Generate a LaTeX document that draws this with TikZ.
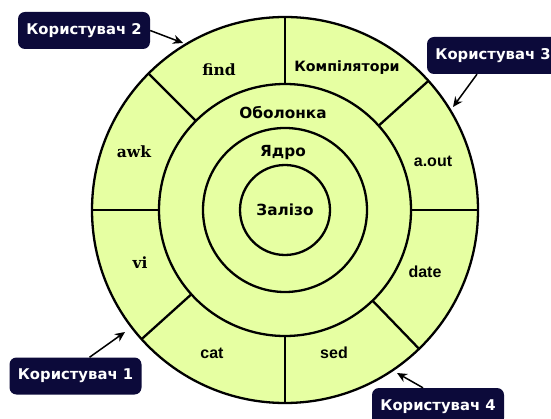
\documentclass[tikz,border=0pt]{standalone}
\usepackage{fontspec}
\setmainfont{DejaVu Sans}
\newfontfamily\labelsans{DejaVu Sans}
\newfontfamily\labelserif{DejaVu Serif}
\newfontfamily\progsans{Liberation Sans}
\usetikzlibrary{arrows.meta,calc}
\definecolor{ringfill}{RGB}{230,255,162}
\definecolor{usernavy}{RGB}{12,10,58}
\tikzset{
  ring/.style={draw=black, line width=2.3pt, fill=ringfill},
  divider/.style={draw=black, line width=2.3pt},
  userbox/.style={fill=usernavy, text=white, rounded corners=7pt,
    minimum width=132pt, minimum height=37pt, inner sep=0pt,
    font=\labelsans\bfseries\fontsize{14.8}{16}\selectfont},
  layer/.style={text=black, inner sep=1pt, font=\labelsans\bfseries\fontsize{15.3}{16}\selectfont},
  toolserif/.style={text=black, inner sep=1pt, font=\labelserif\bfseries\fontsize{15.5}{16}\selectfont},
  toolsans/.style={text=black, inner sep=1pt, font=\progsans\bfseries\fontsize{16}{17}\selectfont},
  pointer/.style={draw=black, line width=1.5pt, -{Stealth[length=10pt,width=9pt]}}
}
\begin{document}
\begin{tikzpicture}[x=1pt,y=-1pt]
  \useasboundingbox (0,0) rectangle (551,419);
  \clip (0,0) rectangle (551,419);
  \fill[white] (0,0) rectangle (551,419);

  \coordinate (c) at (285,210);

  % concentric layers
  \path[ring] (c) circle[radius=193];
  \path[ring] (c) circle[radius=126];
  \path[ring] (c) circle[radius=82];
  \path[ring] (c) circle[radius=45];

  % sector borders of the outer ring (angles run clockwise here)
  \foreach \a in {0,-42,-90,-135,180,138,90,46}
    \draw[divider] ($(c)+(\a:126)$) -- ($(c)+(\a:193)$);

  % layer names
  \node[layer] (shell)  at (283,113) {Оболонка};
  \node[layer] (kernel) at (283,153) {Ядро};
  \node[layer] (hw)     at (285,210) {Залізо};

  % programs in the outer ring
  \node[toolserif] (find) at (219,70)  {find};
  \node[layer, font=\labelsans\bfseries\fontsize{14.2}{16}\selectfont] (comp) at (347,68) {Компілятори};
  \node[toolsans]  (aout) at (433,161) {a.out};
  \node[toolsans]  (date) at (425,272) {date};
  \node[toolsans]  (sed)  at (334,353) {sed};
  \node[toolsans]  (cat)  at (212,353) {cat};
  \node[toolserif] (vi)   at (140,263) {vi};
  \node[toolserif] (awk)  at (134,152) {awk};

  % users
  \node[userbox] (u2) at (84,30.5)  {Користувач 2};
  \node[userbox] (u3) at (493,55.5) {Користувач 3};
  \node[userbox] (u1) at (75.5,376) {Користувач 1};
  \node[userbox] (u4) at (438,406.5) {Користувач 4};

  \coordinate (t2) at (183,43);
  \coordinate (t3) at (453,107);
  \coordinate (t1) at (125,332);
  \coordinate (t4) at (397,373);

  \draw[pointer] (u2.east) -- (t2);
  \draw[pointer] ([xshift=-16pt]u3.south) -- (t3);
  \draw[pointer] ([xshift=14pt]u1.north) -- (t1);
  \draw[pointer] ([xshift=-15pt]u4.north) -- (t4);
\end{tikzpicture}
\end{document}
